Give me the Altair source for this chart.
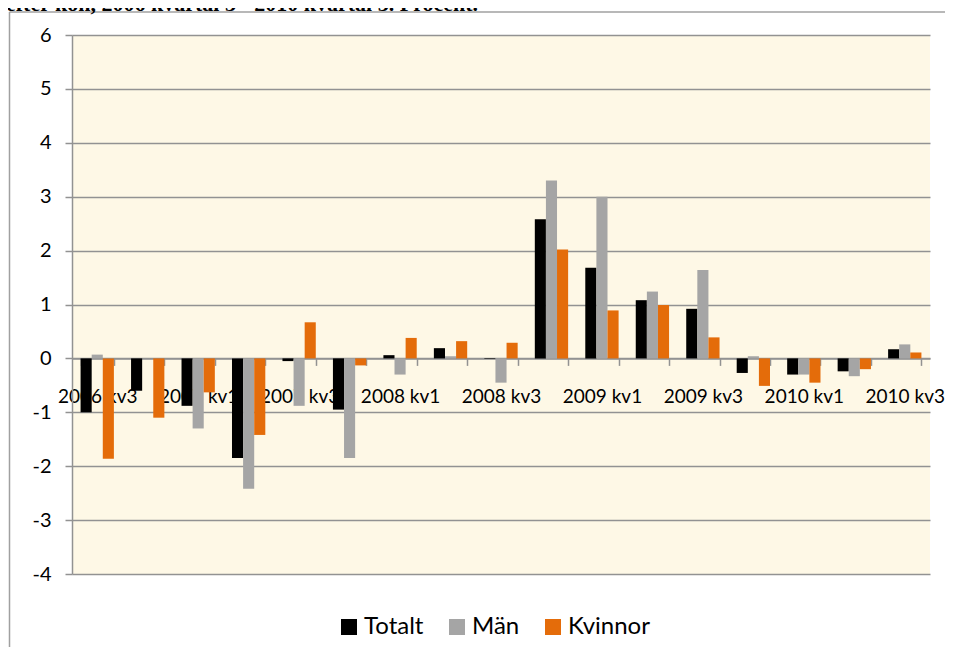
import altair as alt
import pandas as pd

quarters = ["2006 kv3", "2006 kv4", "2007 kv1", "2007 kv2", "2007 kv3", "2007 kv4",
            "2008 kv1", "2008 kv2", "2008 kv3", "2008 kv4", "2009 kv1", "2009 kv2",
            "2009 kv3", "2009 kv4", "2010 kv1", "2010 kv2", "2010 kv3"]
totalt = [-1.00, -0.60, -0.88, -1.85, -0.05, -0.95, 0.06, 0.19, -0.01, 2.58, 1.68, 1.08,
          0.92, -0.27, -0.30, -0.24, 0.17]
man = [0.07, 0.00, -1.30, -2.42, -0.88, -1.85, -0.30, 0.04, -0.45, 3.30, 3.00, 1.24,
       1.64, 0.04, -0.30, -0.33, 0.26]
kvinnor = [-1.86, -1.10, -0.63, -1.42, 0.67, -0.13, 0.38, 0.32, 0.29, 2.02, 0.89, 0.99,
           0.39, -0.51, -0.45, -0.20, 0.11]
series = ["Totalt", "Män", "Kvinnor"]
colors = ["#000000", "#A5A5A5", "#E46C0A"]
title_text = "efter kön, 2006 kvartal 3 - 2010 kvartal 3. Procent."

rows = []
for s, vals in zip(series, [totalt, man, kvinnor]):
    for q, v in zip(quarters, vals):
        rows.append({"kvartal": q, "serie": s, "varde": v})
df = pd.DataFrame(rows)

W, H = 858, 539
FONT = "Lato"
GRID = "#929292"

bars = alt.Chart(df).mark_bar().encode(
    x=alt.X("kvartal:N", sort=quarters,
            scale=alt.Scale(paddingInner=0.34, paddingOuter=0.17),
            axis=alt.Axis(title=None, orient="bottom", offset=-H * 0.4,
                          labelAngle=0, labelFont=FONT, labelFontSize=19,
                          labelColor="#000000", labelPadding=22,
                          labelExpr="test(/kv[13]$/, datum.value) ? datum.value : ''",
                          tickBand="extent", tickSize=7, tickColor=GRID,
                          tickWidth=1.5, domainColor=GRID, domainWidth=1.5,
                          labelOverlap=False, labelBound=False, labelFlush=False)),
    xOffset=alt.XOffset("serie:N", sort=series, scale=alt.Scale(paddingInner=0, paddingOuter=0)),
    y=alt.Y("varde:Q", scale=alt.Scale(domain=[-4, 6], nice=False),
            axis=alt.Axis(title=None, values=list(range(-4, 7)), labelFont=FONT,
                          labelFontSize=20, labelColor="#000000", labelPadding=14,
                          labelExpr="toString(datum.value)",
                          tickSize=7, tickColor=GRID, tickWidth=1.5,
                          domainColor=GRID, domainWidth=1.5,
                          grid=True, gridColor=GRID, gridWidth=1.5, gridOpacity=1)),
    color=alt.Color("serie:N", sort=series,
                    scale=alt.Scale(domain=series, range=colors),
                    legend=alt.Legend(title=None, orient="none", direction="horizontal",
                                      legendX=265, legendY=580, symbolType="square",
                                      symbolSize=256, symbolStrokeWidth=0,
                                      symbolOpacity=1, labelFont=FONT, labelFontSize=24,
                                      labelColor="#000000", labelOffset=3,
                                      columnPadding=21)),
)

one = pd.DataFrame({"a": [0]})
frame_left = alt.Chart(one).mark_rule(color="#A0A0A0", strokeWidth=1.5).encode(
    x=alt.value(-62.5), y=alt.value(-23), y2=alt.value(700))
frame_top = alt.Chart(one).mark_rule(color="#A0A0A0", strokeWidth=1.5).encode(
    x=alt.value(-62.5), x2=alt.value(900), y=alt.value(-23))
title = alt.Chart(one).mark_text(align="left", baseline="alphabetic", font="Liberation Serif",
                                 fontWeight="bold", fontSize=22, color="#000000").encode(
    x=alt.value(-66), y=alt.value(-24.5), text=alt.value(title_text))

chart = alt.layer(bars, frame_left, frame_top, title).properties(
    width=W, height=H,
    padding={"left": 64, "top": 27, "right": 15, "bottom": 73},
    autosize=alt.AutoSizeParams(type="none"),
    background="#FFFFFF",
).configure_view(fill="#FEF8E6", stroke=None)

chart.save("out.html", embed_options={"renderer": "svg", "actions": False})
